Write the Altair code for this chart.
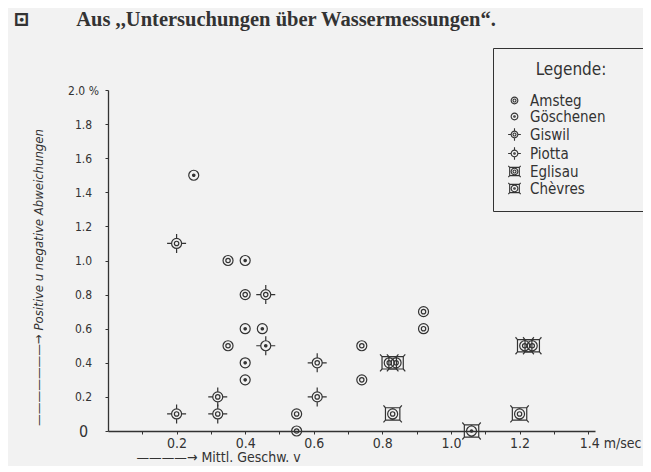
import altair as alt
import pandas as pd

# ---- data -----------------------------------------------------------------
stations = ["Amsteg", "Göschenen", "Giswil", "Piotta", "Eglisau", "Chèvres"]

amsteg_v = [0.35, 0.40, 0.35, 0.55, 0.55, 0.74, 0.74, 0.92, 0.92]
amsteg_d = [1.00, 0.80, 0.50, 0.10, 0.00, 0.50, 0.30, 0.70, 0.60]

goeschenen_v = [0.25, 0.40, 0.40, 0.45, 0.40, 0.40]
goeschenen_d = [1.50, 1.00, 0.60, 0.60, 0.40, 0.30]

giswil_v = [0.20, 0.46, 0.61, 0.61, 0.32, 0.32, 0.20]
giswil_d = [1.10, 0.80, 0.40, 0.20, 0.20, 0.10, 0.10]

piotta_v = [0.46]
piotta_d = [0.50]

eglisau_v = [0.82, 0.84, 0.83, 1.215, 1.237, 1.20]
eglisau_d = [0.40, 0.40, 0.10, 0.50, 0.50, 0.10]

chevres_v = [1.06]
chevres_d = [0.00]

x_ticks = [0.1, 0.2, 0.3, 0.4, 0.5, 0.6, 0.7, 0.8, 0.9, 1.0, 1.1, 1.2, 1.3, 1.4]
y_ticks = [0, 0.2, 0.4, 0.6, 0.8, 1.0, 1.2, 1.4, 1.6, 1.8, 2.0]

series = {
    "Amsteg": (amsteg_v, amsteg_d),
    "Göschenen": (goeschenen_v, goeschenen_d),
    "Giswil": (giswil_v, giswil_d),
    "Piotta": (piotta_v, piotta_d),
    "Eglisau": (eglisau_v, eglisau_d),
    "Chèvres": (chevres_v, chevres_d),
}
rows = []
for name, (vs, ds) in series.items():
    for v, d in zip(vs, ds):
        rows.append({"station": name, "v": v, "d": d})
df = pd.DataFrame(rows)


# ---- glyphs (custom symbol paths, unit square -1..1) -----------------------
def circ(r):
    return f"M{-r},0A{r},{r} 0 1,0 {r},0A{r},{r} 0 1,0 {-r},0Z"


ring = circ(0.5)
hollow = circ(0.22)
dot = circ(0.12) + circ(0.05)
cross = "M-0.95,0H-0.5M0.5,0H0.95M0,-0.95V-0.5M0,0.5V0.95"
box = ("M-0.72,-0.62H0.72V0.62H-0.72Z"
       "M-0.72,-0.62L-0.92,-0.85M0.72,-0.62L0.92,-0.85"
       "M0.72,0.62L0.92,0.85M-0.72,0.62L-0.92,0.85")

paths = [
    ring + hollow,          # Amsteg
    ring + dot,             # Göschenen
    ring + hollow + cross,  # Giswil
    ring + dot + cross,     # Piotta
    ring + hollow + box,    # Eglisau
    ring + dot + box,       # Chèvres
]

INK = "#333333"
BG = "#f2f2f2"
NARROW = "Liberation Sans Narrow, DejaVu Sans Condensed, Roboto Condensed, Noto Sans, sans-serif"
PADCH = "\u2800\u2800\u2800"

x_axis = alt.Axis(
    values=x_ticks,
    labelExpr="(round(datum.value*10) % 2 == 0) ? format(datum.value, '.1f') + (datum.value > 1.35 ? ' m/sec' : '') : ''",
    labelAlign={"condition": {"test": "datum.value > 1.35", "value": "left"}, "value": "center"},
    labelOffset={"condition": {"test": "datum.value > 1.35", "value": -9}, "value": 0},
    labelFont=NARROW, labelFontSize=14, labelColor=INK, labelPadding=2,
    tickSize=3, tickColor=INK, tickWidth=1,
    domainColor=INK, domainWidth=1.3, grid=False,
    title="————→  Mittl. Geschw.  v",
    titleFont=NARROW, titleFontSize=14, titleFontWeight="normal", titleColor=INK,
    titleX=28, titleY=30, titleAlign="left", titleBaseline="alphabetic",
)

y_axis = alt.Axis(
    values=y_ticks,
    labelExpr="datum.value == 0 ? '0' : (datum.value > 1.95 ? '2.0 %' : format(datum.value, '.1f'))",
    labelFontSize={"condition": {"test": "datum.value == 0", "value": 16}, "value": 12},
    labelAlign="center",
    labelFont=NARROW, labelColor=INK, labelPadding=22,
    tickSize=3, tickColor=INK, tickWidth=1,
    domainColor=INK, domainWidth=1.3, grid=False,
    title="———————→  Positive u negative Abweichungen",
    titleFont=NARROW, titleFontSize=13, titleFontWeight="normal", titleFontStyle="italic",
    titleColor=INK, titleAngle=270, titleX=-70, titleY=187,
    titleAlign="center", titleBaseline="middle",
)

chart = alt.Chart(df).mark_point(
    filled=False, strokeWidth=1.2, size=400, opacity=1
).encode(
    x=alt.X("v:Q", scale=alt.Scale(domain=[0, 1.42], nice=False, zero=False), axis=x_axis),
    y=alt.Y("d:Q", scale=alt.Scale(domain=[0, 2.0], nice=False), axis=y_axis),
    shape=alt.Shape(
        "station:N",
        scale=alt.Scale(domain=stations, range=paths),
        legend=alt.Legend(
            title="Legende:", orient="none", legendX=385, legendY=-42,
            strokeColor=INK, fillColor=BG, padding=14,
            titleFont=NARROW, titleFontSize=17, titleFontWeight="normal",
            titleColor=INK, titlePadding=14, titleAnchor="middle",
            labelFont=NARROW, labelFontSize=15, labelColor=INK, labelOffset=8,
            labelExpr="datum.label + '" + PADCH + "'",
            symbolSize=180, symbolStrokeWidth=1.1, symbolStrokeColor=INK,
            symbolFillColor="transparent", rowPadding=0,
        ),
    ),
    color=alt.value(INK),
).properties(
    width=487,
    height=341,
    background=BG,
    autosize=alt.AutoSizeParams(type="none"),
    padding={"left": 100, "top": 82, "right": 48, "bottom": 35},
    title=alt.Title(
        "⊡\u00a0\u00a0\u00a0\u00a0\u00a0\u00a0\u00a0\u00a0\u00a0Aus ,,Untersuchungen über Wassermessungen“.",
        anchor="start", frame="group", dx=-95, offset=17,
        font="Liberation Serif, DejaVu Serif, serif", fontSize=20.5,
        fontWeight="bold", color=INK,
    ),
).configure_view(stroke=None)

chart.save("out.html", embed_options={"renderer": "svg", "actions": False})
